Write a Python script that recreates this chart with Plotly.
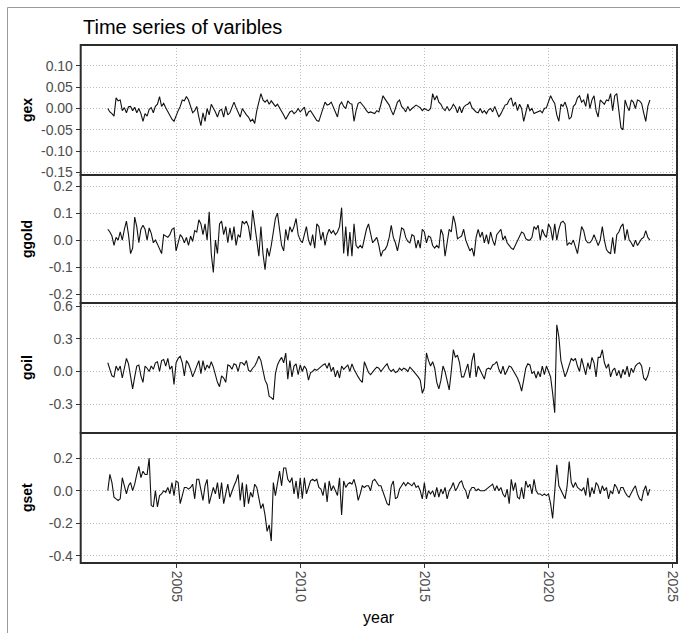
import plotly.graph_objects as go

# monthly observations, Apr 2002 .. Feb 2024
start_year, start_month = 2002, 4

gex = [0.000, -0.008, -0.012, -0.018, 0.025, 0.018, 0.020, -0.005, 0.002,
       -0.010, 0.004, 0.005, -0.005, 0.003, -0.010, 0.000, -0.012, -0.030, -0.012, -0.018, -0.002,
       0.002, -0.010, 0.005, 0.010, 0.028, 0.005, 0.012, 0.002, -0.008, -0.015, -0.025, -0.030,
       -0.015, -0.005, 0.005, 0.020, 0.018, 0.028, 0.020, 0.002, -0.010, -0.005, 0.005, -0.020,
       -0.040, -0.010, -0.030, 0.000, -0.015, 0.010, 0.002, -0.008, -0.020, -0.005, -0.002, -0.020,
       0.005, -0.015, -0.010, 0.005, 0.015, 0.002, -0.010, -0.020, 0.000, -0.008, -0.015, -0.020,
       -0.030, -0.025, -0.035, -0.005, 0.015, 0.035, 0.020, 0.015, 0.020, 0.010, 0.018, 0.010,
       0.005, 0.010, 0.002, -0.005, -0.015, -0.025, -0.015, -0.008, -0.005, -0.012, -0.008, 0.000,
       -0.008, -0.002, 0.003, -0.018, -0.008, -0.005, -0.012, -0.020, -0.028, -0.030, -0.015, 0.000,
       0.015, 0.008, 0.010, 0.015, 0.002, -0.012, -0.020, 0.008, 0.015, 0.005, 0.000, 0.018,
       0.012, 0.010, -0.030, -0.005, 0.012, 0.015, 0.010, 0.003, -0.005, -0.010, -0.008, -0.010,
       -0.012, -0.005, -0.008, 0.010, 0.030, 0.022, 0.015, 0.008, -0.005, -0.015, 0.000, 0.015,
       0.020, 0.005, 0.000, -0.008, 0.005, -0.005, 0.000, 0.005, 0.008, 0.005, 0.002, -0.005,
       0.000, -0.003, -0.005, 0.000, 0.035, 0.020, 0.030, 0.015, 0.010, 0.000, -0.005, 0.005,
       -0.005, 0.000, 0.010, 0.003, -0.010, 0.005, -0.010, 0.003, 0.008, 0.010, 0.015, 0.002,
       -0.003, -0.008, -0.010, 0.000, -0.010, -0.005, -0.012, -0.003, 0.000, -0.008, 0.005, -0.010,
       -0.020, -0.012, 0.000, 0.008, 0.010, 0.020, 0.025, 0.005, 0.015, -0.005, 0.010, 0.000,
       -0.030, -0.010, 0.010, -0.005, 0.000, -0.012, -0.010, -0.008, -0.005, -0.010, 0.000, 0.002,
       0.015, 0.030, 0.020, 0.012, -0.015, -0.030, 0.010, 0.005, 0.015, 0.000, -0.025, -0.020,
       0.005, 0.010, 0.025, 0.030, 0.015, 0.020, 0.005, 0.035, 0.000, 0.020, 0.030, -0.005,
       -0.020, 0.020, 0.015, 0.010, 0.020, 0.018, 0.035, -0.005, 0.030, 0.035, -0.005, -0.045,
       -0.050, 0.020, 0.005, -0.005, 0.020, 0.015, 0.000, 0.020, 0.018, 0.012, -0.010, -0.030,
       0.005, 0.020]

ggold = [0.040, 0.030, 0.015, -0.020, 0.010, 0.000, 0.030, 0.000, 0.040,
         0.070, 0.020, -0.050, -0.030, 0.085, 0.050, -0.010, 0.040, 0.055, 0.040, 0.000, 0.045,
         0.025, -0.010, 0.000, -0.015, -0.030, -0.050, 0.020, 0.015, 0.010, 0.020, 0.040, 0.045,
         -0.040, -0.010, 0.020, 0.010, -0.010, 0.010, -0.020, 0.015, -0.005, 0.035, 0.030, 0.075,
         0.060, 0.020, 0.060, 0.000, 0.105, -0.050, -0.120, 0.000, -0.050, 0.060, 0.070, 0.020,
         0.050, -0.010, 0.045, 0.000, 0.050, -0.020, 0.020, 0.010, 0.070, 0.060, 0.070, 0.050,
         0.000, 0.110, 0.060, 0.000, -0.060, 0.050, -0.050, -0.110, -0.030, -0.060, -0.020, 0.040,
         0.080, 0.100, 0.040, -0.020, -0.040, 0.040, 0.000, 0.050, 0.030, 0.050, 0.080, 0.020,
         0.000, -0.010, 0.020, 0.050, 0.000, -0.020, 0.020, -0.030, 0.060, 0.050, 0.000, 0.030,
         -0.020, 0.020, 0.040, 0.025, 0.035, 0.020, 0.030, 0.050, 0.120, -0.050, 0.050, -0.060,
         0.030, -0.060, 0.060, -0.020, -0.030, -0.020, -0.030, 0.005, 0.040, 0.060, 0.020, -0.010,
         0.000, 0.010, -0.020, -0.060, -0.040, -0.035, -0.020, 0.010, 0.055, 0.010, -0.010, -0.040,
         0.000, 0.045, 0.040, 0.010, -0.005, -0.010, 0.020, 0.015, -0.030, 0.000, -0.030, 0.040,
         0.030, -0.010, 0.015, 0.010, -0.020, -0.030, -0.020, -0.030, 0.040, 0.020, -0.060, 0.000,
         0.040, 0.030, 0.090, 0.060, 0.005, 0.010, 0.015, 0.040, 0.000, -0.020, -0.040, -0.030,
         -0.060, 0.010, 0.040, 0.010, 0.030, -0.010, 0.020, -0.015, 0.030, 0.000, -0.020, 0.020,
         0.030, 0.040, 0.000, 0.015, -0.010, -0.020, -0.030, -0.035, -0.020, 0.000, 0.010, 0.030,
         0.025, 0.005, 0.000, 0.000, 0.010, 0.050, 0.040, 0.055, 0.000, 0.040, 0.020, 0.010,
         0.060, 0.045, 0.000, 0.060, 0.000, 0.040, 0.065, 0.070, 0.060, -0.020, -0.010, -0.015,
         0.000, -0.025, -0.050, 0.000, 0.050, 0.035, 0.000, -0.010, -0.010, 0.000, 0.020, 0.000,
         -0.020, 0.000, 0.050, 0.000, -0.035, -0.045, -0.050, 0.010, -0.050, 0.020, 0.030, 0.050,
         0.060, 0.000, 0.040, 0.000, -0.010, -0.025, 0.000, -0.020, -0.005, 0.005, 0.010, 0.035,
         0.010, 0.000]

goil = [0.080, 0.020, -0.040, -0.050, 0.050, 0.010, 0.050, -0.060, 0.050,
        0.120, 0.070, -0.030, -0.160, -0.050, 0.050, 0.060, -0.040, -0.100, 0.050, 0.030, 0.000,
        0.050, 0.020, 0.080, 0.090, 0.000, 0.100, 0.110, 0.050, 0.120, 0.020, 0.050, -0.120,
        0.080, 0.120, 0.140, 0.080, -0.040, 0.100, 0.070, 0.020, -0.050, 0.000, 0.050, 0.100,
        -0.020, 0.100, 0.010, 0.060, 0.030, 0.090, 0.040, -0.030, -0.100, -0.140, -0.040, -0.060,
        -0.100, 0.060, 0.050, 0.020, 0.070, 0.060, 0.000, 0.080, 0.080, 0.060, 0.100, 0.010,
        0.000, 0.030, 0.050, 0.090, 0.140, 0.100, 0.000, -0.080, -0.120, -0.230, -0.240, -0.260,
        -0.020, 0.060, 0.100, 0.130, 0.080, 0.170, -0.070, 0.100, -0.050, 0.050, 0.070, -0.030,
        0.060, 0.000, 0.050, 0.020, -0.080, -0.010, 0.000, 0.020, 0.010, 0.030, 0.040, 0.060,
        0.070, 0.030, 0.080, 0.000, 0.040, -0.050, 0.010, -0.060, 0.050, 0.020, 0.040, 0.060,
        0.000, 0.070, 0.020, -0.020, -0.050, -0.080, -0.100, 0.090, 0.030, -0.010, -0.030, 0.000,
        0.020, 0.040, 0.030, 0.000, 0.030, 0.050, 0.070, 0.020, 0.000, 0.020, -0.010, 0.000,
        0.030, 0.010, 0.030, 0.020, 0.000, 0.040, 0.020, 0.000, -0.020, -0.050, -0.080, -0.200,
        -0.150, 0.170, 0.100, 0.050, 0.090, 0.030, -0.100, -0.160, -0.080, 0.050, 0.000, -0.100,
        -0.170, 0.000, 0.200, 0.130, 0.150, 0.080, -0.050, -0.050, 0.020, 0.070, -0.060, 0.100,
        0.170, -0.050, 0.050, 0.010, -0.040, -0.070, 0.020, 0.030, 0.020, 0.060, 0.070, 0.090,
        0.020, -0.020, 0.050, -0.030, 0.010, 0.050, 0.040, 0.010, -0.020, -0.060, -0.110, -0.180,
        -0.080, 0.030, 0.070, 0.060, -0.020, 0.000, -0.060, 0.000, -0.050, 0.050, -0.030, 0.050,
        0.000, -0.050, -0.200, -0.380, 0.430, 0.320, 0.100, 0.020, -0.050, 0.000, 0.070, 0.120,
        0.100, 0.120, 0.050, 0.000, 0.120, 0.030, -0.030, 0.080, 0.020, 0.130, 0.080, -0.050,
        0.130, 0.130, 0.200, 0.080, 0.030, 0.070, -0.050, 0.010, 0.030, -0.040, 0.010, -0.060,
        0.020, -0.030, 0.050, -0.050, 0.030, -0.010, 0.050, 0.070, 0.080, 0.050, -0.060, -0.080,
        -0.040, 0.040]

gset = [0.000, 0.100, 0.050, -0.040, -0.050, -0.060, -0.050, 0.080, 0.030,
        -0.020, 0.030, 0.050, 0.000, 0.040, 0.100, 0.150, 0.080, 0.120, 0.100, 0.100, 0.200,
        -0.090, -0.100, 0.000, -0.100, -0.030, -0.020, 0.000, -0.010, 0.020, -0.020, 0.050, -0.030,
        0.060, 0.050, -0.080, -0.030, 0.020, 0.020, 0.010, 0.020, 0.040, -0.050, 0.070, 0.070,
        0.010, -0.060, 0.030, 0.070, -0.080, -0.030, 0.020, -0.020, 0.050, -0.050, 0.050, -0.080,
        -0.010, 0.040, -0.040, 0.000, 0.030, 0.060, 0.100, -0.060, 0.050, -0.100, 0.040, -0.080,
        -0.010, -0.040, 0.040, 0.020, -0.050, -0.110, -0.080, -0.150, -0.250, -0.210, -0.310, 0.050,
        -0.030, 0.060, 0.120, 0.030, 0.140, 0.140, 0.070, 0.050, 0.080, -0.020, 0.060, -0.050,
        0.080, -0.050, 0.080, -0.020, 0.020, 0.060, 0.070, 0.060, 0.070, 0.020, 0.010, -0.030,
        0.050, -0.070, 0.060, 0.000, 0.030, 0.000, -0.030, 0.080, -0.150, 0.060, 0.020, 0.040,
        0.050, 0.040, 0.070, 0.020, -0.060, -0.020, 0.030, 0.020, 0.030, 0.030, 0.000, 0.060,
        0.070, 0.050, 0.030, 0.030, -0.010, -0.050, -0.080, -0.090, 0.030, 0.060, -0.050, -0.040,
        0.010, 0.030, 0.050, 0.030, 0.050, 0.040, 0.030, 0.050, 0.020, 0.030, 0.000, -0.050,
        0.050, -0.050, 0.000, -0.020, 0.000, -0.040, 0.020, -0.040, 0.010, -0.020, 0.020, -0.050,
        0.000, 0.020, 0.050, 0.000, 0.020, 0.050, 0.060, 0.020, 0.000, -0.050, 0.000, 0.020,
        0.020, 0.000, 0.010, 0.000, 0.000, 0.000, 0.010, 0.020, 0.030, 0.040, 0.000, 0.030,
        0.000, 0.020, -0.020, -0.040, 0.010, -0.080, 0.070, 0.000, 0.050, -0.040, -0.050, 0.020,
        -0.050, 0.060, 0.020, 0.040, -0.020, 0.070, 0.000, -0.020, -0.020, -0.030, -0.020, -0.030,
        -0.020, -0.080, -0.170, 0.000, 0.160, 0.030, 0.000, -0.020, -0.050, 0.030, 0.180, 0.050,
        0.020, 0.050, 0.020, 0.010, 0.000, 0.020, -0.030, 0.080, -0.040, 0.020, -0.020, 0.050,
        0.030, -0.020, 0.030, 0.000, 0.020, -0.050, 0.000, -0.020, 0.040, 0.020, -0.020, 0.020,
        0.020, -0.010, -0.030, -0.040, -0.010, 0.010, 0.030, -0.020, -0.050, -0.060, 0.000, 0.030,
        -0.030, 0.010]

series_names = ["gex", "ggold", "goil", "gset"]
series_values = [gex, ggold, goil, gset]
y_ticks = [[-0.15, -0.10, -0.05, 0.00, 0.05, 0.10],
           [-0.2, -0.1, 0.0, 0.1, 0.2],
           [-0.3, 0.0, 0.3, 0.6],
           [-0.4, -0.2, 0.0, 0.2]]
y_tick_text = [["-0.15", "-0.10", "-0.05", "0.00", "0.05", "0.10"],
               ["-0.2", "-0.1", "0.0", "0.1", "0.2"],
               ["-0.3", "0.0", "0.3", "0.6"],
               ["-0.4", "-0.2", "0.0", "0.2"]]
y_ranges = [[-0.156, 0.149], [-0.233, 0.241], [-0.566, 0.630], [-0.445, 0.355]]
x_ticks = [2005, 2010, 2015, 2020, 2025]
x_tick_text = ["2005", "2010", "2015", "2020", "2025"]

W, H = 680, 633


def px_x(px):
    return px / W


def px_y(py):
    return 1 - py / H


n = len(gex)
t = [start_year + (start_month - 1 + i) / 12 for i in range(n)]
span = t[-1] - t[0]
x_range = [t[0] - 0.05 * span, t[-1] + 0.05 * span]

# panel pixel bounds (top, bottom)
panels_px = [(45, 175), (175, 303), (303, 433), (433, 563)]
XL, XR = 80.7, 677
x_dom = [px_x(XL), px_x(XR)]

fig = go.Figure()
FONT = "Liberation Sans, Arial, sans-serif"
GRID = dict(showgrid=True, gridcolor="#BEBEBE", griddash="1px,2px", gridwidth=1)
for i, (name, vals) in enumerate(zip(series_names, series_values)):
    ax = "" if i == 0 else str(i + 1)
    fig.add_trace(go.Scatter(x=t, y=vals, mode="lines",
                             line=dict(color="#111111", width=1.1),
                             xaxis="x" + ax, yaxis="y" + ax, showlegend=False,
                             hoverinfo="skip"))
    top, bot = panels_px[i]
    last = (i == 3)
    xa = dict(domain=x_dom, range=x_range, anchor="y" + ax, automargin=False,
              tickvals=x_ticks, ticktext=x_tick_text, ticklabeloverflow="allow",
              showticklabels=last, ticks="outside" if last else "",
              ticklen=4, tickwidth=1, tickcolor="#333333",
              tickangle=90, tickfont=dict(family=FONT, size=14, color="#4D4D4D"),
              zeroline=False, showline=False, **GRID)
    ya = dict(domain=[px_y(bot), px_y(top)], range=y_ranges[i], anchor="x" + ax,
              automargin=False, ticklabeloverflow="allow",
              tickvals=y_ticks[i], ticktext=y_tick_text[i],
              ticks="outside", ticklen=4, tickwidth=1, tickcolor="#333333",
              tickfont=dict(family=FONT, size=14, color="#4D4D4D"),
              zeroline=False, showline=False, **GRID)
    fig.layout["xaxis" + ax] = xa
    fig.layout["yaxis" + ax] = ya
    fig.add_shape(type="rect", xref="paper", yref="paper",
                  x0=x_dom[0], x1=x_dom[1], y0=px_y(bot), y1=px_y(top),
                  line=dict(color="#2B2B2B", width=2), fillcolor="rgba(0,0,0,0)")
    fig.add_annotation(text="<b>" + name + "</b>", xref="paper", yref="paper",
                       x=px_x(27), y=px_y((top + bot) / 2), textangle=-90,
                       showarrow=False, font=dict(family=FONT, size=14, color="#000000"),
                       xanchor="center", yanchor="middle")

fig.add_annotation(text="Time series of varibles", xref="paper", yref="paper",
                   x=px_x(XL), y=px_y(27), xanchor="left", yanchor="middle",
                   showarrow=False, font=dict(family=FONT, size=20, color="#000000"))
fig.add_annotation(text="year", xref="paper", yref="paper",
                   x=px_x((XL + XR) / 2), y=px_y(617), xanchor="center", yanchor="middle",
                   showarrow=False, font=dict(family=FONT, size=16, color="#000000"))

# outer frame of the image (left and top edges)
fig.add_shape(type="line", xref="paper", yref="paper", x0=px_x(7.5), x1=px_x(7.5), y0=0,
              y1=px_y(7.5), line=dict(color="#9A9A9A", width=1))
fig.add_shape(type="line", xref="paper", yref="paper", x0=px_x(7.5), x1=1, y0=px_y(7.5),
              y1=px_y(7.5), line=dict(color="#9A9A9A", width=1))

fig.update_layout(width=W, height=H, margin=dict(l=0, r=0, t=0, b=0),
                  plot_bgcolor="white", paper_bgcolor="white")
# place the figure flush with the window corner (no default page margin)
fig.write_html("out.html", config={"displayModeBar": False},
               post_script="document.body.style.margin='0';document.body.style.overflow='hidden';")
